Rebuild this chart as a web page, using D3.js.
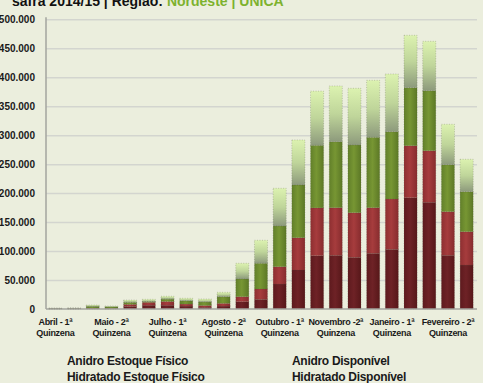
<!DOCTYPE html>
<html>
<head>
<meta charset="utf-8">
<script src="https://d3js.org/d3.v7.min.js"></script>
<style>
    body { margin: 0; background: #ebeedd; }
    svg { display: block; font-family: "Liberation Sans", Arial, sans-serif; }
    .gridLines line { stroke: #d3d5cf; stroke-width: 1.5; }
    .gridLines path { display: none; }
    .axisLabels text { font-size: 10px; font-weight: bold; fill: #1a1a1a; }
    .axisLabels path, .axisLabels line { display: none; }
    .xLabels text { font-size: 9px; font-weight: bold; fill: #1a1a1a; letter-spacing: -0.3px; }
    .legend text { font-size: 12px; font-weight: bold; fill: #1a1a1a; letter-spacing: -0.3px; }
</style>
</head>
<body>
<script>
(function(){

//quinzenas of the safra
var categories = [
    "Abril - 1ª", "Abril - 2ª", "Maio - 1ª", "Maio - 2ª", "Junho - 1ª", "Junho - 2ª",
    "Julho - 1ª", "Julho - 2ª", "Agosto - 1ª", "Agosto - 2ª", "Setembro - 1ª", "Setembro - 2ª",
    "Outubro - 1ª", "Outubro - 2ª", "Novembro -1ª", "Novembro -2ª", "Dezembro - 1ª", "Dezembro - 2ª",
    "Janeiro - 1ª", "Janeiro - 2ª", "Fevereiro - 1ª", "Fevereiro - 2ª", "Março - 1ª"
];

//series values (m³)
var anidroEstoque = [300, 400, 800, 500, 4500, 6500, 6500, 5000, 3000, 5000, 12600, 16700,
    43100, 67300, 92000, 92700, 89200, 96100, 103000, 192100, 184200, 92700, 75900];
var hidratadoEstoque = [300, 300, 800, 700, 3500, 5000, 6500, 3500, 3000, 4700, 8600, 17800,
    29900, 55700, 82500, 82100, 77000, 78700, 86800, 89700, 89000, 75300, 57500];
var anidroDisponivel = [500, 600, 3000, 2500, 3500, 1500, 4000, 5500, 6000, 11500, 30600, 44400,
    70200, 91000, 108000, 113900, 116800, 121500, 116200, 100200, 103600, 81000, 69100];
var hidratadoDisponivel = [500, 500, 2300, 1500, 4000, 3700, 5000, 4500, 5300, 7600, 27100, 39700,
    65100, 77700, 93500, 96200, 97900, 98400, 99600, 90400, 85200, 69800, 55900];

var seriesNames = ["Anidro Estoque Físico", "Hidratado Estoque Físico", "Anidro Disponível", "Hidratado Disponível"];
var yTicks = [0, 50000, 100000, 150000, 200000, 250000, 300000, 350000, 400000, 450000, 500000];
var xTickLabels = ["Abril - 1ª", "Maio - 2ª", "Julho - 1ª", "Agosto - 2ª", "Outubro - 1ª", "Novembro -2ª", "Janeiro - 1ª", "Fevereiro - 2ª"];

var width = 483,
    height = 383;

var svg = d3.select("body")
    .append("svg")
    .attr("width", width)
    .attr("height", height);

//gradients for the bar segments
var defs = svg.append("defs");
function hGrad(id, left, mid, right){
    var g = defs.append("linearGradient").attr("id", id)
        .attr("x1", 0).attr("y1", 0).attr("x2", 1).attr("y2", 0);
    g.append("stop").attr("offset", "0%").attr("stop-color", left);
    g.append("stop").attr("offset", "45%").attr("stop-color", mid);
    g.append("stop").attr("offset", "100%").attr("stop-color", right);
};
hGrad("gDark", "#5e1a1e", "#6e2226", "#571719");
hGrad("gRed", "#8e2f31", "#a63c3d", "#872c2e");
hGrad("gGreen", "#62802a", "#779633", "#5c7826");
var top = defs.append("linearGradient").attr("id", "gLight")
    .attr("x1", 0).attr("y1", 0).attr("x2", 0).attr("y2", 1);
top.append("stop").attr("offset", "0%").attr("stop-color", "#dcf2b0");
top.append("stop").attr("offset", "50%").attr("stop-color", "#bfd59a");
top.append("stop").attr("offset", "100%").attr("stop-color", "#8d9a7c");

var fills = ["url(#gDark)", "url(#gRed)", "url(#gGreen)", "url(#gLight)"];

//title, partly cut off at the top edge as in the source
var title = svg.append("text")
    .attr("x", 12)
    .attr("y", 6)
    .style("font-size", "14px")
    .style("font-weight", "bold");
title.append("tspan").attr("fill", "#111").text("safra 2014/15 | Região: ");
title.append("tspan").attr("fill", "#7db22e").text("Nordeste | UNICA");

//scales
var x = d3.scaleBand()
    .domain(categories)
    .range([46, 476])
    .paddingInner(0.3)
    .paddingOuter(0.15);

var y = d3.scaleLinear()
    .domain([0, 500000])
    .range([309, 19.3]);

var locale = d3.formatLocale({decimal: ",", thousands: ".", grouping: [3], currency: ["", ""]});
var fmt = locale.format(",");

//gridlines
svg.append("g")
    .attr("class", "gridLines")
    .attr("transform", "translate(46,0)")
    .call(d3.axisLeft(y).tickValues(yTicks.slice(1)).tickSize(-431).tickFormat(""));

//y labels
svg.append("g")
    .attr("class", "axisLabels")
    .attr("transform", "translate(46,0)")
    .call(d3.axisLeft(y).tickValues(yTicks).tickSize(0).tickPadding(11).tickFormat(fmt));

//stack the four series
var table = categories.map(function(c, i){
    return {cat: c, s0: anidroEstoque[i], s1: hidratadoEstoque[i], s2: anidroDisponivel[i], s3: hidratadoDisponivel[i]};
});
var stacked = d3.stack().keys(["s0", "s1", "s2", "s3"])(table);

var layers = svg.selectAll(".layer")
    .data(stacked)
    .enter()
    .append("g")
    .attr("class", "layer")
    .attr("fill", function(d, i){ return fills[i]; });

layers.selectAll("rect")
    .data(function(d){ return d; })
    .enter()
    .append("rect")
    .attr("x", function(d){ return x(d.data.cat); })
    .attr("width", x.bandwidth())
    .attr("y", function(d){ return y(d[1]); })
    .attr("height", function(d){ return Math.max(0, y(d[0]) - y(d[1])); })
    .attr("stroke", "#4a4a40")
    .attr("stroke-width", 0.6)
    .attr("stroke-opacity", 0.45)
    .attr("stroke-dasharray", "1,1.5");

//axis lines
svg.append("line")
    .attr("x1", 46).attr("x2", 46)
    .attr("y1", y(500000) - 2).attr("y2", y(0))
    .attr("stroke", "#a3a59e").attr("stroke-width", 1.5);
svg.append("line")
    .attr("x1", 46).attr("x2", 477)
    .attr("y1", y(0)).attr("y2", y(0))
    .attr("stroke", "#a3a59e").attr("stroke-width", 1.5);

//x labels, every third quinzena
var xAxis = svg.append("g")
    .attr("class", "xLabels")
    .attr("transform", "translate(0," + y(0) + ")")
    .call(d3.axisBottom(x).tickValues(xTickLabels).tickSize(0).tickFormat(""));
xAxis.select(".domain").remove();
xAxis.selectAll(".tick").each(function(d){
    var t = d3.select(this).append("text")
        .attr("text-anchor", "middle")
        .attr("fill", "#1a1a1a");
    t.append("tspan").attr("x", 0).attr("y", 16).text(d);
    t.append("tspan").attr("x", 0).attr("y", 26.5).text("Quinzena");
});

//legend (text only)
var legendPos = [[67, 365], [67, 381], [292, 365], [292, 381]];
svg.append("g")
    .attr("class", "legend")
    .selectAll("text")
    .data(seriesNames)
    .enter()
    .append("text")
    .attr("x", function(d, i){ return legendPos[i][0]; })
    .attr("y", function(d, i){ return legendPos[i][1]; })
    .text(function(d){ return d; });

})();
</script>
</body>
</html>
